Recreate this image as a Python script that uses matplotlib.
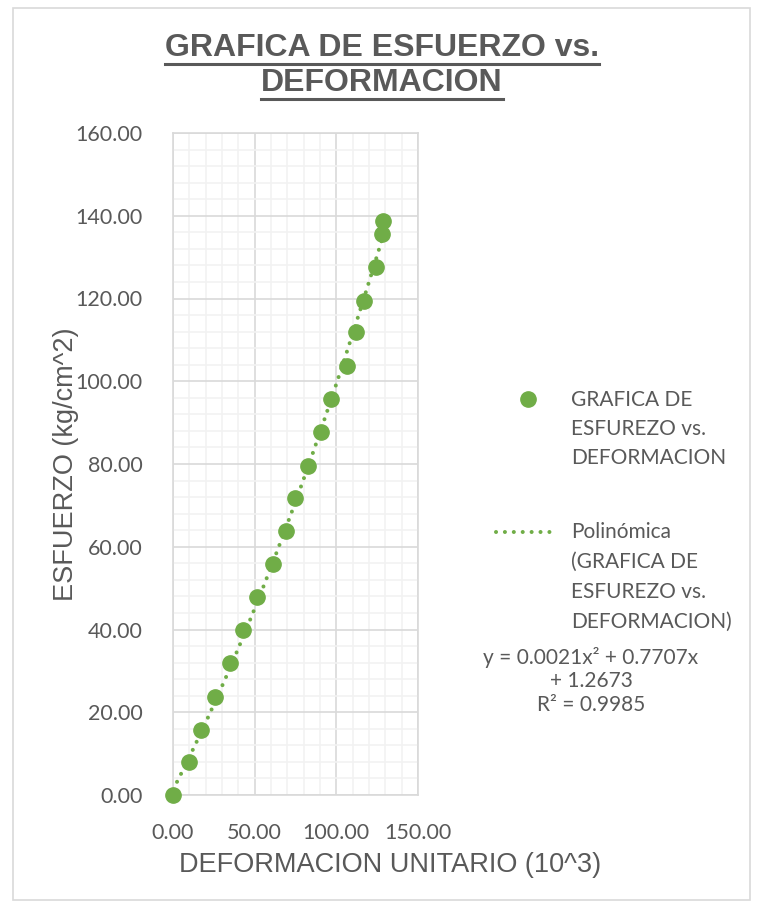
import numpy as np
import matplotlib.pyplot as plt
from matplotlib.lines import Line2D
from matplotlib.patches import Rectangle

# ---- data ----
strain = [0.0, 9.6, 17.4, 25.5, 35.1, 43.1, 51.2, 61.2, 69.0, 74.9,
          82.9, 90.9, 96.7, 106.5, 112.3, 116.8, 124.5, 128.2, 128.6]
stress = [0.0, 7.9, 15.8, 23.8, 31.8, 39.8, 47.8, 55.9, 63.8, 71.8,
          79.6, 87.7, 95.7, 103.8, 111.8, 119.5, 127.6, 135.5, 138.7]
fit_coef = [0.0021, 0.7707, 1.2673]   # y = a x^2 + b x + c
r2 = 0.9985

title_lines = ["GRAFICA DE ESFUERZO vs.", "DEFORMACION"]
series_lines = ["GRAFICA DE", "ESFUREZO vs.", "DEFORMACION"]
trend_lines = ["Polinómica", "(GRAFICA DE", "ESFUREZO vs.", "DEFORMACION)"]

GREEN = "#70AD47"
TXT = "#595959"
W, H = 759, 908


def fx(px):
    return px / W


def fy(py):
    return 1 - py / H


fig = plt.figure(figsize=(W / 100, H / 100), dpi=100)
fig.patch.set_facecolor("white")

# chart border
fig.patches.append(Rectangle((fx(13), fy(900)), fx(750) - fx(13), fy(8) - fy(900),
                             transform=fig.transFigure, fill=False,
                             edgecolor="#D9D9D9", lw=1.2))

ax = fig.add_axes([fx(173), fy(795), fx(418) - fx(173), fy(133) - fy(795)])
ax.set_xlim(0, 150)
ax.set_ylim(0, 160)
ax.set_xticks([0, 50, 100, 150])
ax.set_yticks(np.arange(0, 161, 20))
ax.set_xticks(np.arange(0, 151, 10), minor=True)
ax.set_yticks(np.arange(0, 161, 4), minor=True)
ax.grid(which="major", color="#D9D9D9", lw=1.2)
ax.grid(which="minor", color="#F2F2F2", lw=1.2)
ax.set_axisbelow(True)
for s in ax.spines.values():
    s.set_color("#D9D9D9")
    s.set_linewidth(1.2)
ax.tick_params(which="both", length=0)
ax.tick_params(axis="x", pad=20)
ax.tick_params(axis="y", pad=22)
ax.xaxis.set_major_formatter(lambda v, p: f"{v:.2f}")
ax.yaxis.set_major_formatter(lambda v, p: f"{v:.2f}")
for lab in ax.get_xticklabels() + ax.get_yticklabels():
    lab.set_fontfamily("Lato")
    lab.set_fontsize(15.5)
    lab.set_color(TXT)

ax.set_xlabel("DEFORMACION UNITARIO (10^3)", fontsize=19.5, color=TXT,
              fontfamily="Liberation Sans", va="center", ha="center")
ax.xaxis.set_label_coords(0.886, -0.106)
ax.set_ylabel("ESFUERZO (kg/cm^2)", fontsize=19.5, color=TXT,
              fontfamily="Liberation Sans", va="center", ha="center")
ax.yaxis.set_label_coords(-0.437, 0.5)

# trendline from the fitted polynomial
xs = np.linspace(0, max(strain), 200)
ax.plot(xs, np.polyval(fit_coef, xs), color=GREEN, lw=2.9,
        ls=(0, (0.01, 2.2)), dash_capstyle="round", zorder=3)
ax.plot(strain, stress, "o", color=GREEN, ms=11, mec=GREEN, zorder=4, clip_on=False)

# title with underline
title_y = [48, 83]
title_objs = []
for line, y in zip(title_lines, title_y):
    t = fig.text(fx(382), fy(y), line, ha="center", va="center",
                 fontsize=23, fontweight="bold", color=TXT,
                 fontfamily="Liberation Sans")
    title_objs.append(t)

# legend, drawn by hand
fig.lines.append(Line2D([fx(528)], [fy(399)], marker="o", ms=11, color=GREEN,
                        transform=fig.transFigure))
for i, line in enumerate(series_lines):
    fig.text(fx(571), fy(400 + i * 29), line, ha="left", va="center",
             fontsize=15, color=TXT, fontfamily="Lato")

fig.lines.append(Line2D([fx(496), fx(558)], [fy(532), fy(532)], color=GREEN,
                        lw=2.9, ls=(0, (0.01, 2.2)), dash_capstyle="round",
                        transform=fig.transFigure))
for i, line in enumerate(trend_lines):
    fig.text(fx(571), fy(532 + i * 30), line, ha="left", va="center",
             fontsize=15, color=TXT, fontfamily="Lato")

eq_lines = [f"y = {fit_coef[0]:.4f}x² + {fit_coef[1]:.4f}x",
            f"+ {fit_coef[2]:.4f}",
            f"R² = {r2:.4f}"]
for i, line in enumerate(eq_lines):
    fig.text(fx(591), fy(657 + i * 24), line, ha="center", va="center",
             fontsize=15, color=TXT, fontfamily="Lato")

fig.canvas.draw()
renderer = fig.canvas.get_renderer()
for t in title_objs:
    bb = t.get_window_extent(renderer)
    uy = bb.y0 - 1
    fig.lines.append(Line2D([bb.x0 / W, bb.x1 / W], [uy / H, uy / H],
                            color=TXT, lw=2.2, transform=fig.transFigure))

fig.savefig("out.png", dpi=100)
